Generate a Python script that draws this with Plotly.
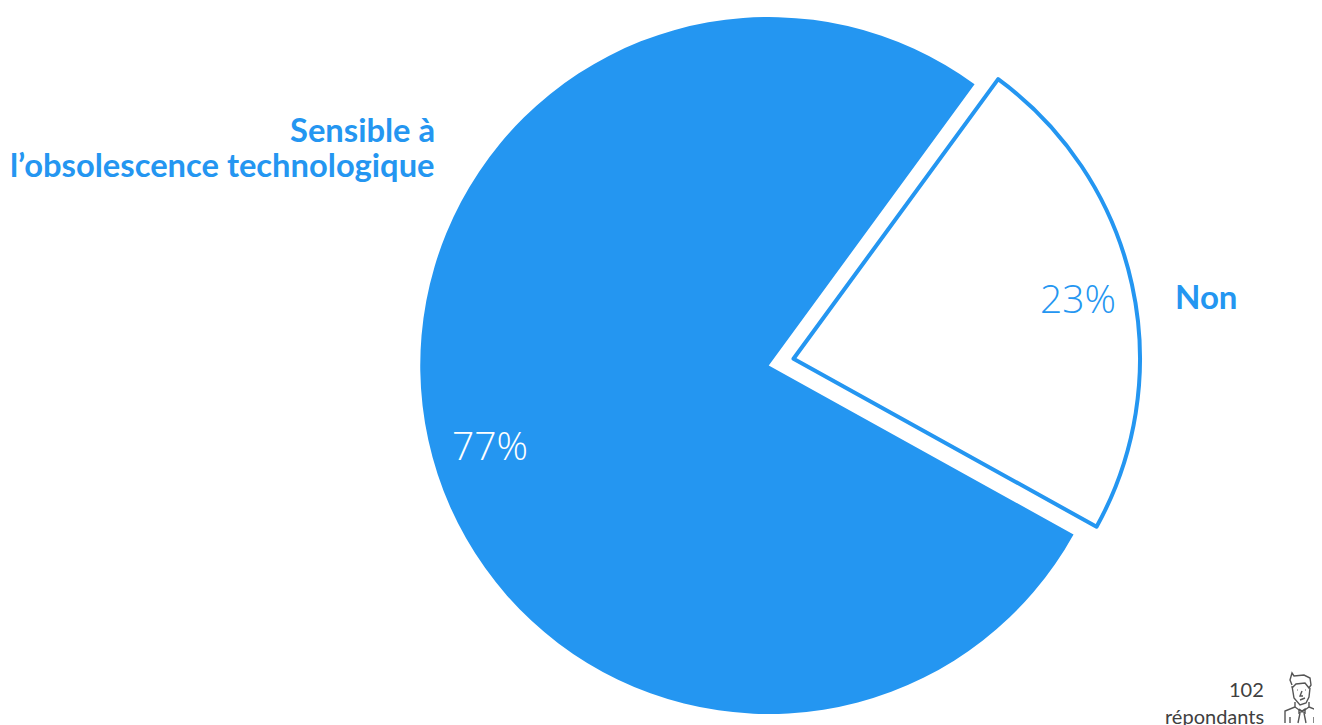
import plotly.graph_objects as go

W, H = 1322, 725
OFF = 8  # the page's default body margin
category_lines = ["Sensible à", "l’obsolescence technologique"]
categories = ["Sensible à l’obsolescence technologique", "Non"]
values = [77, 23]
percent_labels = ["77%", "23%"]
blue = "#2496F1"
grey = "#404040"
respondents = ["102", "répondants"]


def fx(x):
    return (x - OFF) / W


def fy(y):
    return 1 - (y - OFF) / H


def dom(x0, x1, y0, y1):
    return dict(x=[fx(x0), fx(x1)], y=[fy(y1), fy(y0)])


def pth(points, close=False):
    s = "M" + " L".join(f"{fx(x):.5f},{fy(y):.5f}" for x, y in points)
    return s + (" Z" if close else "")


common = dict(values=values, labels=categories, sort=False, direction="clockwise",
              rotation=119, textinfo="none", hoverinfo="label+percent", showlegend=False)
fig = go.Figure()
fig.add_trace(go.Pie(domain=dom(419.5, 1118, 17, 714),
                     marker=dict(colors=[blue, "rgba(0,0,0,0)"], line=dict(width=0)), **common))
fig.add_trace(go.Pie(domain=dom(447, 1140, 12, 705.5),
                     marker=dict(colors=["rgba(0,0,0,0)", "#FFFFFF"],
                                 line=dict(color=["rgba(0,0,0,0)", blue], width=4)), **common))


def note(text, x, y, size, color, anchor="center", weight=400, family="Lato"):
    fig.add_annotation(text=text, x=fx(x), y=fy(y), xref="paper", yref="paper", showarrow=False,
                       xanchor=anchor, yanchor="middle", align=anchor,
                       font=dict(size=size, color=color, family=family, weight=weight))


note(percent_labels[0], 490, 444, 39, "#FFFFFF", weight=300, family="Open Sans")
note(percent_labels[1], 1078, 297, 39, blue, weight=300, family="Open Sans")
note(category_lines[0], 437, 130, 32.7, blue, anchor="right", weight=700)
note(category_lines[1], 437, 165, 32.7, blue, anchor="right", weight=700)
note(categories[1], 1206, 296, 33, blue, weight=700)
note(respondents[0], 1266, 689, 20, grey, anchor="right")
note(respondents[1], 1266, 716, 20, grey, anchor="right")

line = dict(color="#555555", width=1.4)
icon = [
    [(1292, 685), (1290, 680), (1292, 673), (1294, 676), (1304, 675), (1310, 678), (1311, 685), (1309, 688), (1305, 683), (1296, 684), (1292, 688)],
    [(1292, 686), (1294, 698), (1300, 705), (1306, 703), (1309, 697), (1310, 688)],
    [(1295, 702), (1295, 707), (1285, 711), (1285, 723)],
    [(1309, 702), (1309, 707), (1319, 711), (1319, 723)],
    [(1295, 707), (1302, 712), (1309, 707)],
    [(1299, 709), (1305, 713), (1305, 709), (1299, 713), (1299, 709)],
    [(1300, 713), (1298, 723)],
    [(1304, 713), (1306, 723)],
    [(1290, 717), (1290, 723)],
    [(1314, 717), (1314, 723)],
    [(1302, 691), (1300, 696), (1303, 696)],
    [(1300, 700), (1305, 698)],
    [(1297, 690), (1297.6, 690)],
    [(1305, 690), (1305.6, 690)],
]
shapes = [dict(type="path", path=pth(p), xref="paper", yref="paper", line=line) for p in icon]

fig.update_layout(width=W, height=H, margin=dict(l=0, r=0, t=0, b=0),
                  paper_bgcolor="white", plot_bgcolor="white", shapes=shapes)
fig.write_html("out.html")
